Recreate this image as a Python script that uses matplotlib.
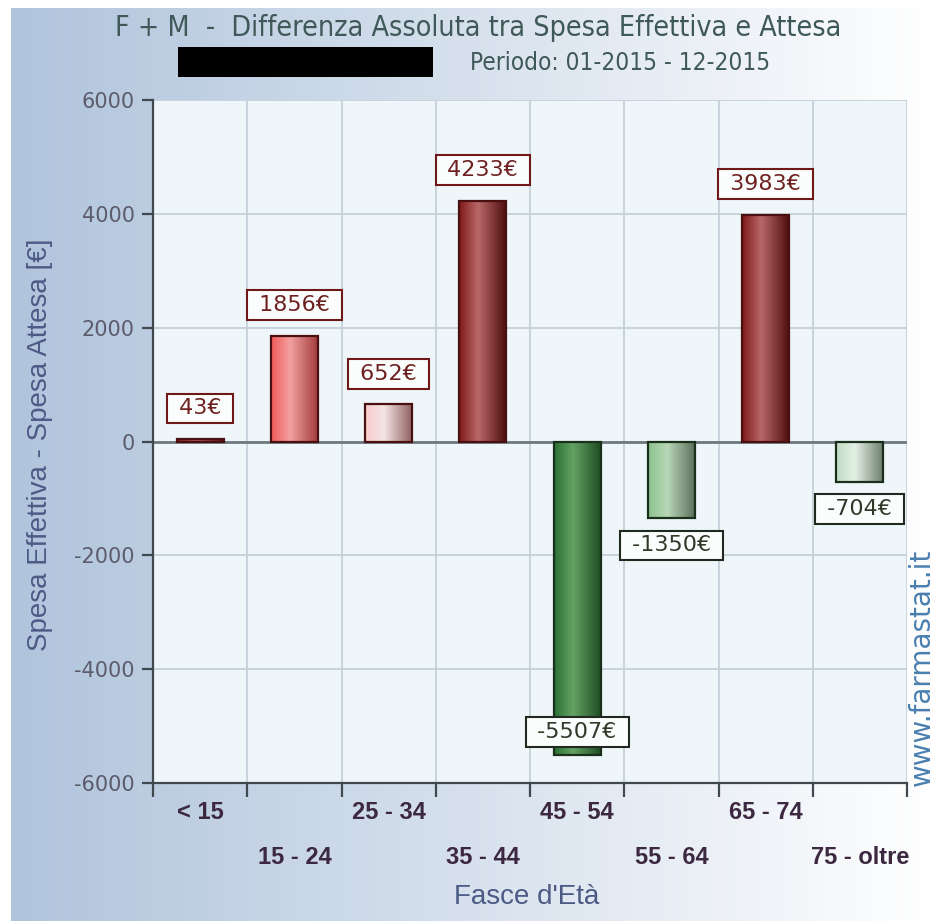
import numpy as np
import matplotlib.pyplot as plt
from matplotlib.colors import LinearSegmentedColormap
from matplotlib.patches import Rectangle
from matplotlib.transforms import blended_transform_factory

plt.rcParams['axes.unicode_minus'] = False

# Fasce d'età e differenza tra spesa effettiva e attesa (euro)
fasce = ['< 15', '15 - 24', '25 - 34', '35 - 44', '45 - 54', '55 - 64', '65 - 74', '75 - oltre']
differenza = [43, 1856, 652, 4233, -5507, -1350, 3983, -704]

# sfumatura di ogni barra: bordo sinistro, riflesso, bordo destro
sfumature = [
    ['#8a1c1c', '#b06060', '#5a1010'],
    ['#f25a5a', '#f2a0a0', '#a03838'],
    ['#f8cccc', '#f4e4e4', '#8c5c5c'],
    ['#801818', '#b86868', '#4c0c0c'],
    ['#2a7034', '#64a264', '#1a4a20'],
    ['#8cc08c', '#b8d8b8', '#5a6a5a'],
    ['#801818', '#b86868', '#4c0c0c'],
    ['#c0dcc4', '#e4f0e4', '#6a7a6a'],
]

W, H = 936, 921
fig = plt.figure(figsize=(W / 100, H / 100), dpi=100)

# sfondo sfumato azzurro -> bianco
bg = fig.add_axes([11 / W, 0, 1 - 11 / W, 1 - 8 / H], zorder=0)
grad = np.linspace(0, 1, 256)[None, :]
bg.imshow(grad, aspect='auto', extent=(0, 1, 0, 1),
          cmap=LinearSegmentedColormap.from_list('bg', ['#b0c4dc', '#ffffff']))
bg.axis('off')

ax = fig.add_axes([153 / W, 1 - 783 / H, (907 - 153) / W, (783 - 100) / H], zorder=1)
ax.set_facecolor('#eff6fa')

x = np.arange(len(fasce))
bars = ax.bar(x, differenza, width=0.5, facecolor='none', linewidth=1.6, zorder=4,
              edgecolor=['#4a1010' if v > 0 else '#1a301a' for v in differenza])

for b, cols in zip(bars, sfumature):
    x0, w = b.get_x(), b.get_width()
    y0, y1 = sorted([b.get_y(), b.get_y() + b.get_height()])
    cm = LinearSegmentedColormap.from_list('barra', list(zip([0, 0.4, 1], cols)))
    ax.imshow(grad, cmap=cm, aspect='auto', extent=(x0, x0 + w, y0, y1), zorder=3)

ax.set_xlim(-0.5, len(fasce) - 0.5)
ax.set_ylim(-6000, 6000)

# griglia e assi
ax.set_xticks(np.arange(-0.5, len(fasce)))
ax.set_xticklabels([])
ax.set_yticks(range(-6000, 6001, 2000))
ax.grid(True, color='#c4d0d8', linewidth=1.3, zorder=1)
ax.set_axisbelow(True)
ax.axhline(0, color='#6c7a80', linewidth=2, zorder=2)
for s in ['top', 'right']:
    ax.spines[s].set_visible(False)
for s in ['left', 'bottom']:
    ax.spines[s].set_color('#404850')
    ax.spines[s].set_linewidth(1.6)
ax.tick_params(axis='x', direction='out', length=10, width=1.6, color='#404850')
ax.tick_params(axis='y', direction='out', length=8, width=1.6, color='#404850',
               labelcolor='#5c5c6c', labelsize=15, pad=5)

# etichette delle fasce su due righe alternate
trans = blended_transform_factory(ax.transData, ax.transAxes)
for i, f in enumerate(fasce):
    yy = -0.0425 if i % 2 == 0 else -0.1084
    ax.text(i, yy, f, transform=trans, ha='center', va='center', fontsize=17,
            fontweight='bold', family='Liberation Sans', color='#3c2840')

# valori sopra/sotto le barre
for i, v in enumerate(differenza):
    pos = v > 0
    if pos:
        dy = 22
    elif v < -5000:
        dy = 16.5
    else:
        dy = -19.5
    ax.annotate(' %d€ ' % v, (i, v), xytext=(0, dy), textcoords='offset points',
                ha='center', va='center', fontsize=16, zorder=6,
                color='#6e2020' if pos else '#333828',
                bbox=dict(boxstyle='square,pad=0.22', fc='#fbfdfd',
                          ec='#6e1818' if pos else '#1e2a1e', lw=1.5))

fig.text(478 / W, 1 - 28 / H, 'F + M  -  Differenza Assoluta tra Spesa Effettiva e Attesa',
         ha='center', va='center', fontsize=20.5, color='#3f5858', fontstretch='condensed')
fig.text(620 / W, 1 - 63 / H, 'Periodo: 01-2015 - 12-2015',
         ha='center', va='center', fontsize=17.5, color='#3f5858', fontstretch='condensed')
fig.patches.append(Rectangle((178 / W, 1 - 77 / H), (433 - 178) / W, 30 / H,
                             transform=fig.transFigure, facecolor='black', zorder=5))

fig.text(40 / W, 1 - 445 / H, 'Spesa Effettiva - Spesa Attesa [€]', rotation=90,
         ha='center', va='center', fontsize=20, family='Liberation Sans', color='#4c5a86')
fig.text(527 / W, 1 - 897 / H, "Fasce d'Età",
         ha='center', va='center', fontsize=20, family='Liberation Sans', color='#4c5a86')
fig.text(936 / W, 1 - 667 / H, 'www.farmastat.it', rotation=90,
         ha='right', va='center', fontsize=20, color='#4a7fb0')

fig.savefig('out.png', dpi=100)
